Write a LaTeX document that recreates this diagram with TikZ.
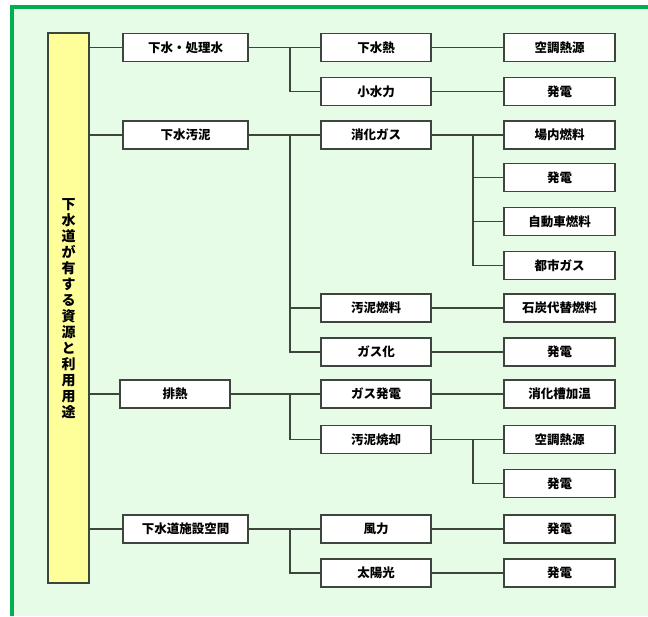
\documentclass[tikz,border=0pt]{standalone}
\usepackage{fontspec}
\newfontfamily\jp{Noto Sans CJK JP}
\definecolor{bggreen}{HTML}{E6FCE6}
\definecolor{frame}{HTML}{00B050}
\definecolor{yel}{HTML}{FFFF99}
\definecolor{ln}{HTML}{3C463C}
\begin{document}
\begin{tikzpicture}[x=1pt,y=-1pt,
  box/.style={draw=ln,line width=1.3pt,fill=white,minimum height=28pt,inner sep=0pt,font=\jp\bfseries\fontsize{12.5}{14}\selectfont},
  lone/.style={box,minimum width=125pt},
  ltwo/.style={box,minimum width=110pt},
  lthree/.style={box,minimum width=111pt},
  conn/.style={draw=ln,line width=1.3pt}]
\useasboundingbox (0,0) rectangle (648,616);
\fill[white] (0,0) rectangle (648,616);
\fill[bggreen] (12,7) rectangle (648,616);
\draw[frame,line width=4pt] (12,616) -- (12,7) -- (648,7);
% title
\node[draw=ln,line width=1.3pt,fill=yel,minimum width=41pt,minimum height=550pt,inner sep=0pt] (t) at (68.5,308) {};
\node[font=\jp\bfseries\fontsize{14}{16}\selectfont,align=center,inner sep=0pt] (tt) at (68.5,308.5) {下\\水\\道\\が\\有\\す\\る\\資\\源\\と\\利\\用\\用\\途};
% level 1
\node[lone] (a1) at (185.5,47.5) {下水・処理水};
\node[lone] (a2) at (185.5,135) {下水汚泥};
\node[box,minimum width=110pt] (a3) at (175,394) {排熱};
\node[lone] (a4) at (185.5,529) {下水道施設空間};
% level 2
\node[ltwo] (b1) at (376,47.5) {下水熱};
\node[ltwo] (b2) at (376,91.5) {小水力};
\node[ltwo] (b3) at (376,135) {消化ガス};
\node[ltwo] (b4) at (376,308) {汚泥燃料};
\node[ltwo] (b5) at (376,352) {ガス化};
\node[ltwo] (b6) at (376,394) {ガス発電};
\node[ltwo] (b7) at (376,439.5) {汚泥焼却};
\node[ltwo] (b8) at (376,529) {風力};
\node[ltwo] (b9) at (376,573) {太陽光};
% level 3
\node[lthree] (c1) at (559.5,47.5) {空調熱源};
\node[lthree] (c2) at (559.5,91.5) {発電};
\node[lthree] (c3) at (559.5,135) {場内燃料};
\node[lthree] (c4) at (559.5,177.5) {発電};
\node[lthree] (c5) at (559.5,221.5) {自動車燃料};
\node[lthree] (c6) at (559.5,265.5) {都市ガス};
\node[lthree] (c7) at (559.5,308) {石炭代替燃料};
\node[lthree] (c8) at (559.5,352) {発電};
\node[lthree] (c9) at (559.5,394) {消化槽加温};
\node[lthree] (c10) at (559.5,439.5) {空調熱源};
\node[lthree] (c11) at (559.5,483.5) {発電};
\node[lthree] (c12) at (559.5,529) {発電};
\node[lthree] (c13) at (559.5,573) {発電};
% branch coordinates
\coordinate (bx) at (290,0);
\coordinate (cx) at (473,0);
% title to level 1
\foreach \n in {a1,a2,a3,a4} \draw[conn] (t.east |- \n.west) -- (\n.west);
% level 1 to level 2
\draw[conn] (a1.east) -- (a1.east -| bx) |- (b2.west);
\draw[conn] (a1.east -| bx) -- (b1.west);
\draw[conn] (a2.east) -- (b3.west);
\draw[conn] (a2.east -| bx) |- (b5.west);
\draw[conn] (a2.east -| bx) |- (b4.west);
\draw[conn] (a3.east) -- (b6.west);
\draw[conn] (a3.east -| bx) |- (b7.west);
\draw[conn] (a4.east) -- (b8.west);
\draw[conn] (a4.east -| bx) |- (b9.west);
% level 2 to level 3
\draw[conn] (b1.east) -- (c1.west);
\draw[conn] (b2.east) -- (c2.west);
\draw[conn] (b3.east) -- (c3.west);
\draw[conn] (b3.east -| cx) |- (c6.west);
\draw[conn] (b3.east -| cx) |- (c4.west);
\draw[conn] (b3.east -| cx) |- (c5.west);
\draw[conn] (b4.east) -- (c7.west);
\draw[conn] (b5.east) -- (c8.west);
\draw[conn] (b6.east) -- (c9.west);
\draw[conn] (b7.east) -- (b7.east -| cx) |- (c11.west);
\draw[conn] (b7.east -| cx) |- (c10.west);
\draw[conn] (b8.east) -- (c12.west);
\draw[conn] (b9.east) -- (c13.west);
\end{tikzpicture}
\end{document}
